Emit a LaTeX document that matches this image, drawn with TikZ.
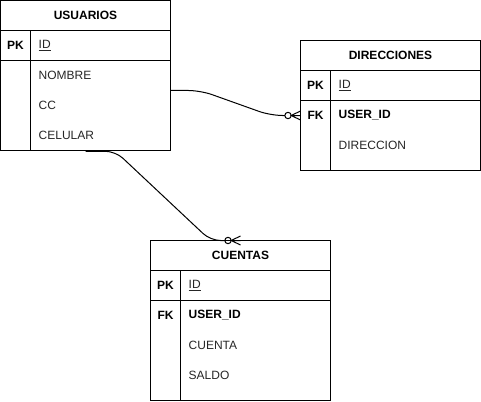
\documentclass[tikz,border=0pt]{standalone}
\usepackage{fontspec}
\setmainfont{Liberation Sans}
\usetikzlibrary{calc}
\begin{document}
\begin{tikzpicture}[x=1pt,y=-1pt,
  box/.style={draw,line width=1pt,inner sep=0pt,rectangle},
  ln/.style={line width=1pt},
  hdr/.style={font=\bfseries\fontsize{12}{14}\selectfont,inner sep=0pt},
  keyl/.style={font=\bfseries\fontsize{12}{14}\selectfont,inner sep=0pt},
  fld/.style={font=\fontsize{12}{14}\selectfont,inner sep=0pt,anchor=west,text=black!85},
  fldb/.style={font=\bfseries\fontsize{12}{14}\selectfont,inner sep=0pt,anchor=west},
  conn/.style={line width=1pt,rounded corners=12pt}]
\useasboundingbox (0,0) rectangle (481,401);

% USUARIOS
\node[box,minimum width=170pt,minimum height=150pt] (usu) at (85.5,75.5) {};
\draw[ln] (0.5,30.5) -- (170.5,30.5);
\draw[ln] (0.5,60.5) -- (170.5,60.5);
\draw[ln] (30.5,30.5) -- (30.5,150.5);
\node[hdr] (usuh) at (85.5,15.5) {USUARIOS};
\node[keyl] (usupk) at (15.5,45.5) {PK};
\node[fld] (usuid) at (38.5,45.5) {\underline{ID}};
\node[fld] (usunom) at (38.5,75.5) {NOMBRE};
\node[fld] (usucc) at (38.5,105.5) {CC};
\node[fld] (usucel) at (38.5,135.5) {CELULAR};

% DIRECCIONES
\node[box,minimum width=180pt,minimum height=130pt] (dir) at (390.5,105.5) {};
\draw[ln] (300.5,70.5) -- (480.5,70.5);
\draw[ln] (300.5,100.5) -- (480.5,100.5);
\draw[ln] (330.5,70.5) -- (330.5,170.5);
\node[hdr] (dirh) at (390.5,55.5) {DIRECCIONES};
\node[keyl] (dirpk) at (315.5,85.5) {PK};
\node[fld] (dirid) at (338.5,85.5) {\underline{ID}};
\node[keyl] (dirfk) at (315.5,115.5) {FK};
\node[fldb] (diruid) at (338.5,115.5) {USER\_ID};
\node[fld] (dirdir) at (338.5,145.5) {DIRECCION};

% CUENTAS
\node[box,minimum width=180pt,minimum height=160pt] (cue) at (240.5,320.5) {};
\draw[ln] (150.5,270.5) -- (330.5,270.5);
\draw[ln] (150.5,300.5) -- (330.5,300.5);
\draw[ln] (180.5,270.5) -- (180.5,400.5);
\node[hdr] (cueh) at (240.5,255.5) {CUENTAS};
\node[keyl] (cuepk) at (165.5,285.5) {PK};
\node[fld] (cueid) at (188.5,285.5) {\underline{ID}};
\node[keyl] (cuefk) at (165.5,315.5) {FK};
\node[fldb] (cueuid) at (188.5,315.5) {USER\_ID};
\node[fld] (cuecta) at (188.5,345.5) {CUENTA};
\node[fld] (cuesal) at (188.5,375.5) {SALDO};

% connector USUARIOS -> DIRECCIONES
\coordinate (s1) at (170.5,90.5);
\coordinate (e1) at (300.5,115.5);
\draw[conn] (s1) -- ($(s1)+(30,0)$) -- ($(e1)+(-30,0)$) -- ($(e1)+(-15.7,0)$);
\draw[line width=1pt] ($(e1)+(-12.5,0)$) circle (3.2pt);
\draw[line width=1pt] ($(e1)+(0,-4.5)$) -- ($(e1)+(-9.3,0)$) -- ($(e1)+(0,4.5)$)
  ($(e1)+(-9.3,0)$) -- (e1);

% connector USUARIOS -> CUENTAS
\coordinate (s2) at (85.5,151.3);
\coordinate (e2) at (240.5,240.5);
\draw[conn,rounded corners=10pt] (s2) -- ($(s2)+(30,0)$) -- ($(e2)+(-30,0)$) -- ($(e2)+(-15.7,0)$);
\draw[line width=1pt] ($(e2)+(-12.5,0)$) circle (3.2pt);
\draw[line width=1pt] ($(e2)+(0,-4.5)$) -- ($(e2)+(-9.3,0)$) -- ($(e2)+(0,4.5)$)
  ($(e2)+(-9.3,0)$) -- (e2);
\end{tikzpicture}
\end{document}
